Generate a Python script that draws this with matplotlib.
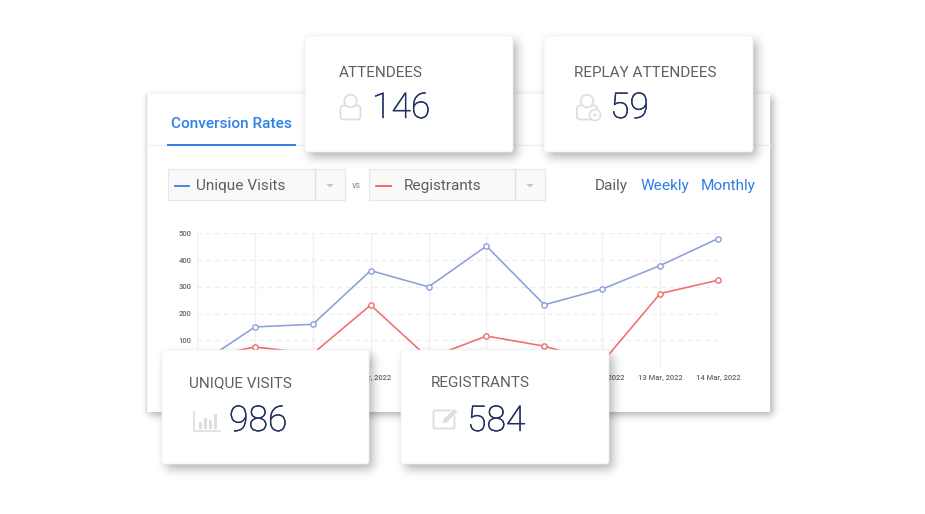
import math
import numpy as np
from matplotlib import pyplot as plt
from matplotlib import patheffects
from matplotlib.patches import Rectangle, FancyBboxPatch, Circle, Polygon

plt.rcParams['font.family'] = ['Roboto', 'DejaVu Sans']

## Chart values
dates = ['5 Mar, 2022', '6 Mar, 2022', '7 Mar, 2022', '8 Mar, 2022', '9 Mar, 2022',
         '10 Mar, 2022', '11 Mar, 2022', '12 Mar, 2022', '13 Mar, 2022', '14 Mar, 2022']
unique_visits = [5, 150, 160, 361, 300, 453, 233, 292, 380, 481]
registrants = [30, 75, 50, 232, 33, 116, 78, 17, 275, 325]
y_ticks = [0, 100, 200, 300, 400, 500]

## KPI cards
card_titles = ['ATTENDEES', 'REPLAY ATTENDEES', 'UNIQUE VISITS', 'REGISTRANTS']
card_values = ['146', '59', '986', '584']

W, H = 925, 514
BLUE = '#2f80e4'
RED = '#f0605a'
LINE_BLUE = '#8e9fd8'
LINE_RED = '#ee6f6c'
NAVY = '#1f2f5c'
GREY = '#5f5f5f'
ICON = '#dedede'

fig = plt.figure(figsize=(W / 100, H / 100), dpi=100, facecolor='white')


def pixel_axes(zorder):
    ax = fig.add_axes([0, 0, 1, 1], zorder=zorder)
    ax.set_xlim(0, W)
    ax.set_ylim(H, 0)
    ax.axis('off')
    ax.patch.set_alpha(0)
    return ax


def shadow(ax, x0, y0, x1, y1, dx=4, dy=5, sigma=5, alpha=0.3, zorder=1):
    # blurred rectangle: product of two 1D gaussian-blurred edges
    erf = np.vectorize(math.erf)
    xs = np.arange(W) + 0.5
    ys = np.arange(H) + 0.5
    s = sigma * math.sqrt(2)
    fx = 0.5 * (erf((xs - x0 - dx) / s) - erf((xs - x1 - dx) / s))
    fy = 0.5 * (erf((ys - y0 - dy) / s) - erf((ys - y1 - dy) / s))
    img = np.zeros((H, W, 4))
    img[..., 3] = np.outer(fy, fx) * alpha
    ax.imshow(img, extent=(0, W, H, 0), aspect='auto', zorder=zorder, interpolation='nearest')
    ax.set_xlim(0, W)
    ax.set_ylim(H, 0)


def card(ax, x0, y0, x1, y1, title, value, title_x, title_y, value_x, value_y):
    shadow(ax, x0, y0, x1, y1)
    ax.add_patch(FancyBboxPatch((x0 + 3, y0 + 3), x1 - x0 - 6, y1 - y0 - 6,
                                boxstyle='round,pad=3', fc='white', ec='#f0f0f0', lw=0.5, zorder=2))
    ax.text(title_x, title_y, title, fontsize=11, color=GREY, va='center', zorder=3)
    num = ax.text(value_x, value_y, value, fontsize=25.6, color=NAVY, va='center', zorder=3, fontweight='light')
    num.set_path_effects([patheffects.withStroke(linewidth=0.35, foreground=NAVY)])


def person(ax, cx, top):
    ax.add_patch(FancyBboxPatch((cx - 7, top + 14.5), 14, 8, boxstyle='round,pad=3',
                                fc='none', ec=ICON, lw=1.3, zorder=3))
    ax.add_patch(Circle((cx, top + 7), 6.3, fc='white', ec=ICON, lw=1.3, zorder=3))


#### Background panel
bg = pixel_axes(0)
shadow(bg, 146, 94, 770, 412, dx=3, dy=3, sigma=4, alpha=0.32, zorder=1)
bg.add_patch(Rectangle((146, 94), 624, 318, fc='white', ec='none', zorder=2))
bg.plot([146, 146], [94, 412], color='#dcdcdc', lw=1, zorder=3)
bg.plot([146, 770], [145, 145], color='#f3f3f3', lw=1, zorder=3)
bg.plot([168, 295], [144.5, 144.5], color=BLUE, lw=1.4, zorder=4)
bg.text(171, 124, 'Conversion Rates', fontsize=11.1, color=BLUE, va='center', fontweight='medium', zorder=4)

# dropdowns
for x0, x1, div in [(168, 345, 315), (369, 545, 515)]:
    bg.add_patch(Rectangle((x0, 169), x1 - x0, 31, fc='#f9f9f9', ec='#e8e8e8', lw=0.9, zorder=3))
    bg.plot([div, div], [169, 200], color='#e0e0e0', lw=0.9, zorder=4)
    mid = (div + x1) / 2
    bg.add_patch(Polygon([(mid - 3.5, 184), (mid + 3.5, 184), (mid, 187.5)], fc='#c4c4c4', ec='none', zorder=4))
bg.plot([175, 189], [185.5, 185.5], color=BLUE, lw=1.3, zorder=4)
bg.plot([376, 391], [185.5, 185.5], color=RED, lw=1.3, zorder=4)
bg.text(196, 186, 'Unique Visits', fontsize=11.1, color=GREY, va='center', zorder=4)
bg.text(404, 186, 'Registrants', fontsize=11.1, color=GREY, va='center', zorder=4)
bg.text(356.5, 185.5, 'vs', fontsize=6.5, color='#8a8a8a', va='center', ha='center', zorder=4)
bg.text(595, 186, 'Daily', fontsize=11.1, color=GREY, va='center', zorder=4)
bg.text(641, 186, 'Weekly', fontsize=11.1, color=BLUE, va='center', zorder=4)
bg.text(701, 186, 'Monthly', fontsize=11.1, color=BLUE, va='center', zorder=4)

#### Line chart
left, right, top, bottom = 197, 718, 233.5, 367
ax = fig.add_axes([left / W, 1 - bottom / H, (right - left) / W, (bottom - top) / H], zorder=1)
ax.patch.set_alpha(0)
x = np.arange(len(dates))
ax.plot(x, unique_visits, color=LINE_BLUE, lw=1.15, marker='o', ms=3.8, mfc='white',
        mec=LINE_BLUE, mew=1, clip_on=False, zorder=4)
ax.plot(x, registrants, color=LINE_RED, lw=1.15, marker='o', ms=3.8, mfc='white',
        mec=LINE_RED, mew=1, clip_on=False, zorder=3)
ax.set_xlim(0, len(dates) - 1)
ax.set_ylim(0, 500)
ax.set_xticks(x)
ax.set_xticklabels(dates, fontsize=5.5, color='#666666', fontweight='medium')
ax.set_yticks(y_ticks)
ax.set_yticklabels(y_ticks, fontsize=5.5, color='#666666', fontweight='medium')
ax.tick_params(axis='x', length=0, pad=5.5)
ax.tick_params(axis='y', length=0, pad=4)
ax.grid(axis='x', color='#f0f0f0', lw=1)
ax.grid(axis='y', color='#eeeeee', lw=0.9, ls=(0, (4, 3)))
ax.set_axisbelow(True)
for sp in ax.spines.values():
    sp.set_visible(False)

#### KPI cards on top
fr = pixel_axes(2)
card(fr, 305, 36, 513, 152, card_titles[0], card_values[0], 339, 73, 372, 108)
card(fr, 544, 36, 753, 152, card_titles[1], card_values[1], 574, 73, 610, 108)
card(fr, 162, 350, 369, 464, card_titles[2], card_values[2], 189, 383, 229, 421)
card(fr, 401, 350, 609, 464, card_titles[3], card_values[3], 431, 383, 467, 421)

# person icons
person(fr, 350.5, 94)
person(fr, 587, 94)
fr.add_patch(Circle((595, 115), 5.5, fc='white', ec=ICON, lw=1.2, zorder=4))
fr.add_patch(Polygon([(593.5, 113), (593.5, 117), (597.5, 115)], fc=ICON, ec='none', zorder=5))

# bar chart icon
fr.plot([194, 194, 220], [412, 431, 431], color=ICON, lw=1.2, zorder=3)
for bx, bh in [(199, 7), (204, 11), (209, 9), (214, 15)]:
    fr.add_patch(Rectangle((bx, 429 - bh), 3, bh, fc=ICON, ec='none', zorder=3))

# edit icon
fr.add_patch(FancyBboxPatch((435, 412), 18, 15, boxstyle='round,pad=1.5', fc='none', ec=ICON, lw=1.4, zorder=3))
fr.add_patch(Polygon([(443, 419), (454, 408), (458, 412), (447, 423), (442, 424)],
                     fc=ICON, ec='white', lw=0.8, zorder=4))

plt.savefig('out.png', dpi=100)
